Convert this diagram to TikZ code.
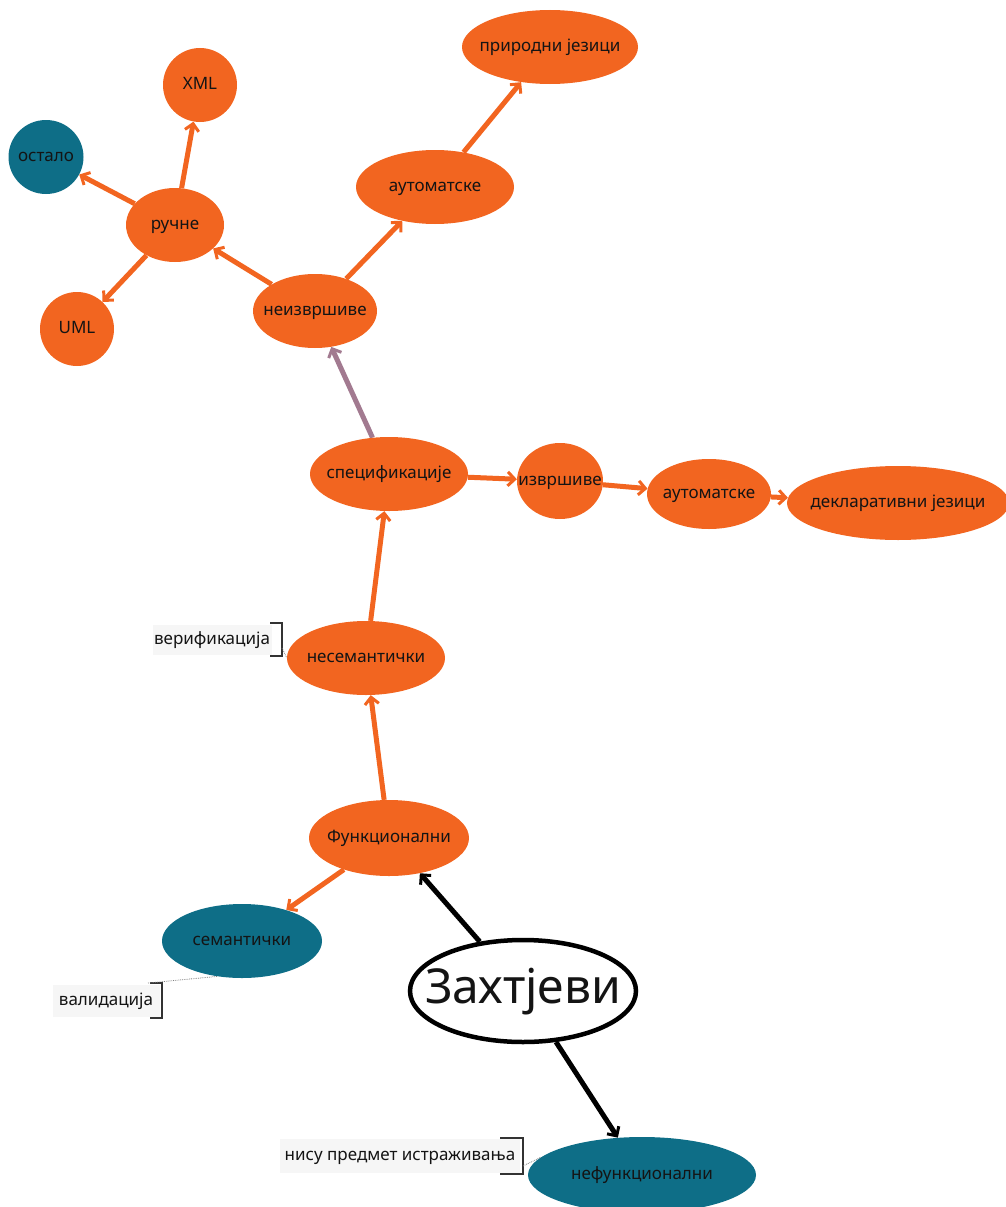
\documentclass[tikz,border=0pt]{standalone}
\usepackage{fontspec}
\setmainfont{Noto Sans}
\usetikzlibrary{shapes.geometric,arrows.meta}
\pgfdeclarelayer{back}
\pgfsetlayers{back,main}
\definecolor{mmorange}{HTML}{F26520}
\definecolor{mmteal}{HTML}{0E6E87}
\definecolor{mmpurple}{HTML}{A27A90}
\definecolor{notebg}{HTML}{F6F6F6}
\definecolor{notebr}{HTML}{333333}
\definecolor{ink}{HTML}{141414}
% label set in a box of no size, so the ellipse keeps the given axes
\newcommand{\lbl}[1]{\smash{\raisebox{-0.5ex}{\makebox[0pt]{#1}}}}
\tikzset{
  bub/.style={ellipse, fill=mmorange, inner sep=0pt, text=ink, font=\fontsize{17}{19}\selectfont},
  tbub/.style={bub, fill=mmteal},
  link/.style={draw=mmorange, line width=5pt, -{Straight Barb[length=7pt,width=14pt,line width=3pt]}},
  plink/.style={link, draw=mmpurple},
  blink/.style={link, draw=black},
  note/.style={fill=notebg, inner sep=0pt, text=ink, font=\fontsize{17}{19}\selectfont},
  brk/.style={draw=notebr, line width=1.3pt},
  tie/.style={draw=gray, densely dotted, line width=0.8pt}
}
\begin{document}
\begin{tikzpicture}[x=1pt,y=-1pt]
\useasboundingbox (0,0) rectangle (1006,1207);
% nodes
\node[bub, minimum width=176pt, minimum height=74pt] (prir) at (550,47) {\lbl{природни језици}};
\node[bub, minimum width=74pt, minimum height=74pt] (xml) at (200,85) {\lbl{XML}};
\node[tbub, minimum width=75pt, minimum height=74pt] (ost) at (46,157) {\lbl{остало}};
\node[bub, minimum width=98pt, minimum height=74pt] (ruc) at (175,225) {\lbl{ручне}};
\node[bub, minimum width=158pt, minimum height=74pt] (aut1) at (435,187) {\lbl{аутоматске}};
\node[bub, minimum width=74pt, minimum height=74pt] (uml) at (77,329) {\lbl{UML}};
\node[bub, minimum width=124pt, minimum height=74pt] (neiz) at (315,311) {\lbl{неизвршиве}};
\node[bub, minimum width=158pt, minimum height=74pt] (spec) at (389,474) {\lbl{спецификације}};
\node[bub, minimum width=86pt, minimum height=76pt] (izv) at (560,481) {\lbl{извршиве}};
\node[bub, minimum width=124pt, minimum height=70pt] (aut2) at (709,494) {\lbl{аутоматске}};
\node[bub, minimum width=222pt, minimum height=74pt] (dekl) at (898,503) {\lbl{декларативни језици}};
\node[bub, minimum width=158pt, minimum height=74pt] (nesem) at (366,658) {\lbl{несемантички}};
\node[bub, minimum width=160pt, minimum height=76pt] (fun) at (389,838) {\lbl{Функционални}};
\node[tbub, minimum width=160pt, minimum height=74pt] (sem) at (242,941) {\lbl{семантички}};
\node[ellipse, draw=black, line width=4.5pt, fill=white, inner sep=0pt, minimum width=226pt, minimum height=102pt, text=ink, font=\fontsize{48}{52}\selectfont] (zah) at (523,991) {\lbl{Захтјеви}};
\node[tbub, minimum width=228pt, minimum height=76pt] (nefun) at (642,1175) {\lbl{нефункционални}};
% connectors, kept behind the bubbles
\begin{pgfonlayer}{back}
\draw[link] (ruc) -- (xml);
\draw[link] (ruc) -- (ost);
\draw[link] (ruc) -- (uml);
\draw[link] (neiz) -- (ruc);
\draw[link] (neiz) -- (aut1);
\draw[link] (aut1) -- (prir);
\draw[plink] (spec) -- (neiz);
\draw[link] (spec) -- (izv);
\draw[link] (izv) -- (aut2);
\draw[link] (aut2) -- (dekl);
\draw[link] (nesem) -- (spec);
\draw[link] (fun) -- (nesem);
\draw[link] (fun) -- (sem);
\draw[blink] (zah) -- (fun);
\draw[blink] (zah) -- (nefun);
\end{pgfonlayer}
% notes
\node[note, minimum width=119pt, minimum height=30pt] (n1) at (212,640) {\lbl{верификација}};
\draw[brk] (270,623) -- (282,623) -- (282,656) -- (270,656);
\coordinate (t1) at (282,648);
\draw[tie] (t1) -- (nesem.west);
\node[note, minimum width=107pt, minimum height=32pt] (n2) at (106,1001) {\lbl{валидација}};
\draw[brk] (150,983) -- (162,983) -- (162,1018) -- (150,1018);
\coordinate (t2) at (148,983);
\draw[tie] (t2) -- (sem.235);
\node[note, minimum width=240pt, minimum height=34pt] (n3) at (400,1156) {\lbl{нису предмет истраживања}};
\draw[brk] (500,1138) -- (523,1138) -- (523,1174) -- (500,1174);
\coordinate (t3) at (523,1166);
\draw[tie] (t3) -- (nefun.170);
\end{tikzpicture}
\end{document}
